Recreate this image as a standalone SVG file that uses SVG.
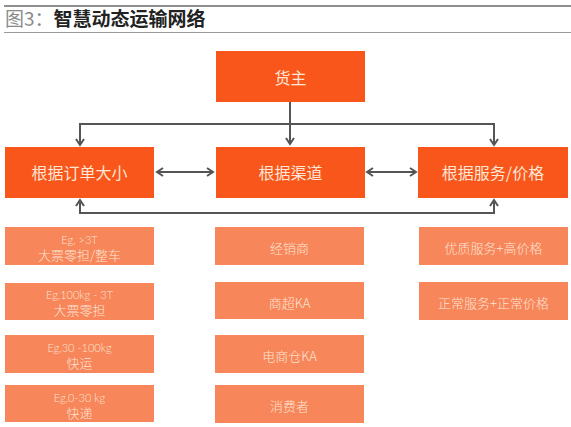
<svg xmlns="http://www.w3.org/2000/svg" width="571" height="427" viewBox="0 0 571 427">
  <style>
    .main { fill: #F9561C; }
    .sub { fill: #F7865A; }
    .t1 { font-family: "Noto Sans CJK SC", "Noto Sans", sans-serif; font-size: 16px; fill: #FFE6D6; text-anchor: middle; dominant-baseline: central; }
    .t2 { font-family: "Noto Sans CJK SC", "Noto Sans", sans-serif; font-size: 13px; fill: #FDE4D4; text-anchor: middle; dominant-baseline: central; font-weight: 300; }
    .t3 { font-family: "Lato", "Open Sans", sans-serif; font-size: 11px; fill: #FDE4D4; text-anchor: middle; dominant-baseline: central; font-weight: 300; }
    .conn { fill: none; stroke: #555; stroke-width: 2; }
  </style>
  <defs>
    <marker id="arr" markerUnits="userSpaceOnUse" markerWidth="10" markerHeight="12" refX="7" refY="5" orient="auto-start-reverse" viewBox="0 0 10 10">
      <path d="M1,1 L7,5 L1,9" fill="none" stroke="#555" stroke-width="2"/>
    </marker>
  </defs>
  <rect width="571" height="427" fill="#ffffff"/>

  <g id="title">
    <line x1="4" y1="6" x2="571" y2="6" stroke="#6a6a6a" stroke-width="1.5"/>
    <text x="5" y="26" font-family="Noto Sans CJK SC, Noto Sans, sans-serif" font-size="19px"><tspan fill="#8a8a8a">图3：</tspan><tspan fill="#222" font-weight="bold">智慧动态运输网络</tspan></text>
    <line x1="4" y1="32.5" x2="571" y2="32.5" stroke="#9a9a9a" stroke-width="1"/>
  </g>

  <g id="connectors">
    <path class="conn" d="M290,102 V144" marker-end="url(#arr)"/>
    <path class="conn" d="M80,145 V124 H494 V145" marker-start="url(#arr)" marker-end="url(#arr)"/>
    <path class="conn" d="M157,172 H213" marker-start="url(#arr)" marker-end="url(#arr)"/>
    <path class="conn" d="M367,172 H416" marker-start="url(#arr)" marker-end="url(#arr)"/>
    <path class="conn" d="M80,200 V213 H494 V200" marker-start="url(#arr)" marker-end="url(#arr)"/>
  </g>

  <g id="n-shipper">
    <rect class="main" x="216" y="51" width="149" height="51"/>
    <text class="t1" x="290.5" y="77">货主</text>
  </g>
  <g id="n-order">
    <rect class="main" x="5" y="147" width="149" height="51"/>
    <text class="t1" x="79.5" y="172">根据订单大小</text>
  </g>
  <g id="n-channel">
    <rect class="main" x="216" y="147" width="149" height="51"/>
    <text class="t1" x="290.5" y="172">根据渠道</text>
  </g>
  <g id="n-service">
    <rect class="main" x="418" y="147" width="150" height="51"/>
    <text class="t1" x="493" y="172">根据服务/价格</text>
  </g>

  <g id="n-o1">
    <rect class="sub" x="5" y="227" width="149" height="38"/>
    <text class="t3" x="79.5" y="239">Eg, &gt;3T</text>
    <text class="t2" x="79.5" y="254">大票零担/整车</text>
  </g>
  <g id="n-o2">
    <rect class="sub" x="5" y="283" width="149" height="37"/>
    <text class="t3" x="79.5" y="294.5">Eg,100kg - 3T</text>
    <text class="t2" x="79.5" y="309.5">大票零担</text>
  </g>
  <g id="n-o3">
    <rect class="sub" x="5" y="335" width="149" height="38"/>
    <text class="t3" x="79.5" y="347">Eg,30 -100kg</text>
    <text class="t2" x="79.5" y="362">快运</text>
  </g>
  <g id="n-o4">
    <rect class="sub" x="5" y="385" width="149" height="37"/>
    <text class="t3" x="79.5" y="397.5">Eg,0-30 kg</text>
    <text class="t2" x="79.5" y="412.5">快递</text>
  </g>

  <g id="n-c1">
    <rect class="sub" x="215" y="227" width="149" height="38"/>
    <text class="t2" x="289.5" y="247">经销商</text>
  </g>
  <g id="n-c2">
    <rect class="sub" x="215" y="282" width="149" height="37"/>
    <text class="t2" x="289.5" y="302">商超KA</text>
  </g>
  <g id="n-c3">
    <rect class="sub" x="215" y="335" width="149" height="38"/>
    <text class="t2" x="289.5" y="355">电商仓KA</text>
  </g>
  <g id="n-c4">
    <rect class="sub" x="215" y="385" width="149" height="38"/>
    <text class="t2" x="289.5" y="405">消费者</text>
  </g>

  <g id="n-s1">
    <rect class="sub" x="419" y="227" width="149" height="38"/>
    <text class="t2" x="493.5" y="247">优质服务+高价格</text>
  </g>
  <g id="n-s2">
    <rect class="sub" x="419" y="282" width="149" height="38"/>
    <text class="t2" x="493.5" y="302">正常服务+正常价格</text>
  </g>
</svg>
